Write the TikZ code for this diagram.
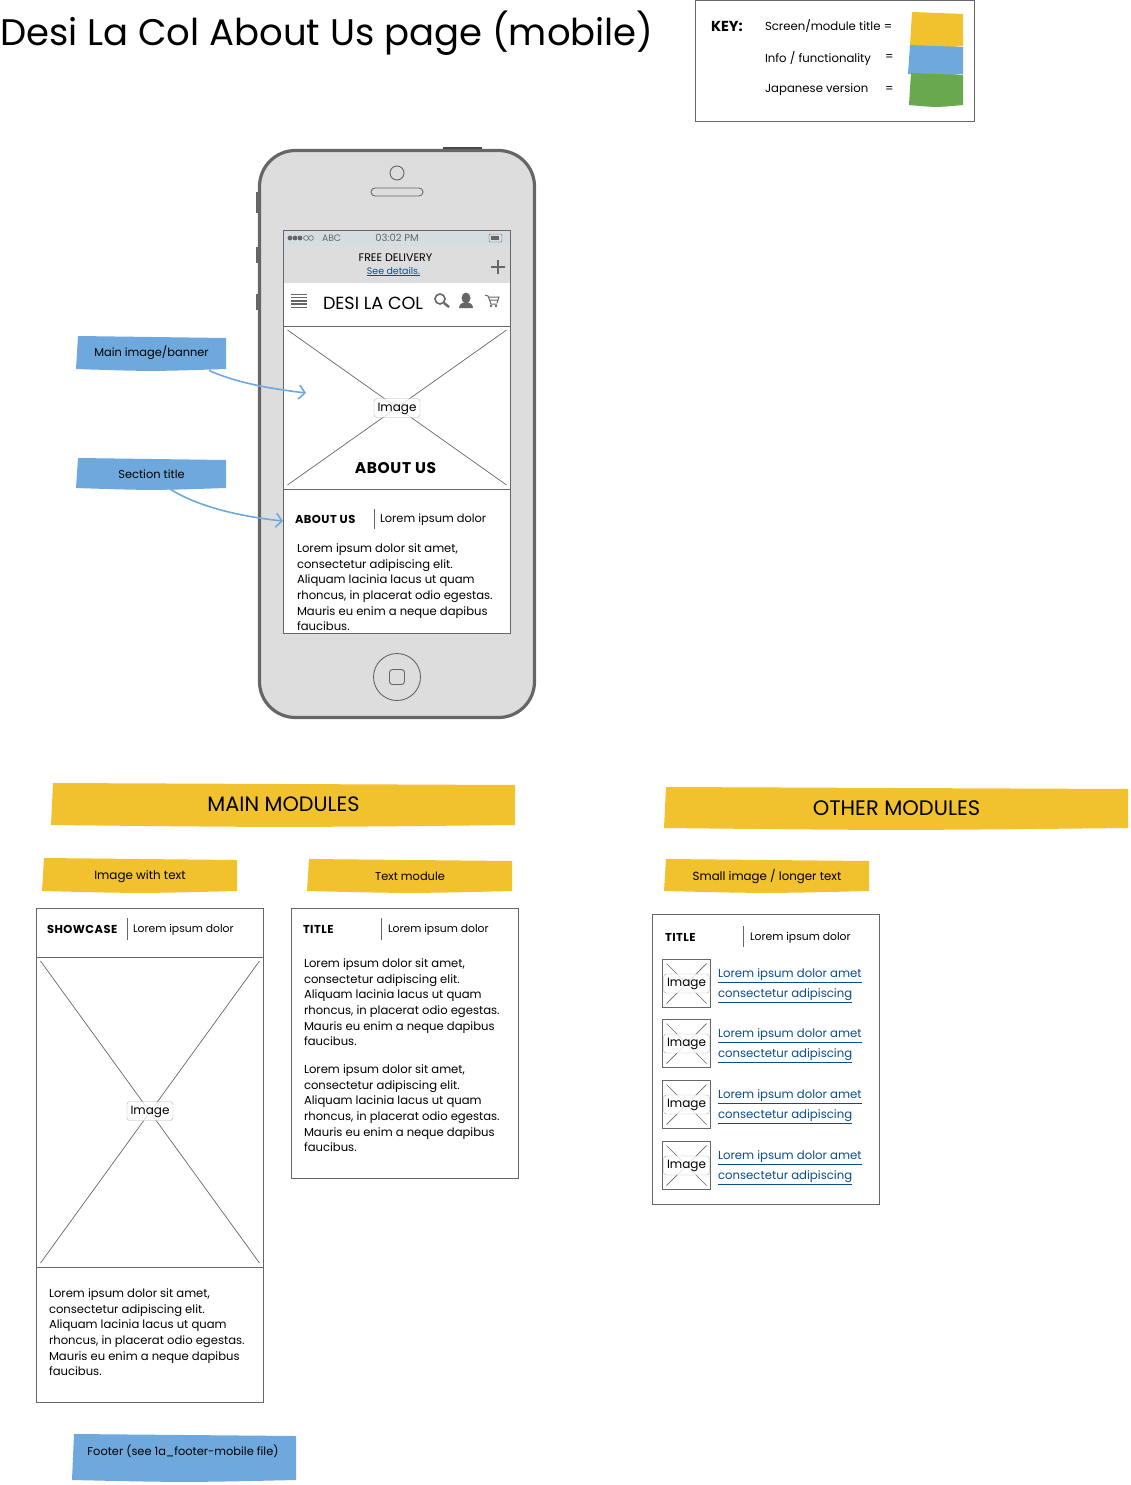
\documentclass[tikz,border=0pt]{standalone}
\usepackage{fontspec}
\setmainfont{Poppins}
\usepackage{xcolor}
\usetikzlibrary{arrows.meta, positioning}
\definecolor{frame}{RGB}{102,102,102}
\definecolor{shell}{RGB}{221,221,221}
\definecolor{statusbar}{RGB}{214,221,224}
\definecolor{notey}{RGB}{242,193,46}
\definecolor{noteb}{RGB}{111,168,220}
\definecolor{noteg}{RGB}{106,168,79}
\definecolor{linkc}{RGB}{11,76,140}
\newcommand{\fs}[1]{\fontsize{#1}{#1}\selectfont}
\newcommand{\stickynote}[6]{%
  \fill[#5] (#1+1,#2) .. controls ({(#1+#3)/2},#2+1) .. (#3,#2+2) -- (#3,#4-1)
    .. controls ({(#1+#3)/2},#4+1.5) .. (#1-1,#4-1) -- cycle;
  \node (#6) at ({(#1+#3)/2},{(#2+#4)/2}) [inner sep=0, outer sep=0] {};}
\tikzset{
  line/.style={draw=frame, line width=0.9pt},
  panel/.style={line, fill=white, anchor=north west, inner sep=0, outer sep=0},
  txt/.style={inner sep=0, outer sep=0, anchor=west, font=\fs{11.4}},
  head/.style={txt, font=\bfseries\fs{11.5}\addfontfeatures{LetterSpace=4}},
  para/.style={inner sep=0, outer sep=0, anchor=north west, align=left, font=\fontsize{11.6}{15.6}\selectfont},
  linktxt/.style={txt, text=linkc, font=\fs{11.7}},
  image_box/.style={panel, path picture={
    \draw[frame, line width=0.7pt] ([shift={(4pt,4pt)}]path picture bounding box.south west) -- ([shift={(-4pt,-4pt)}]path picture bounding box.north east);
    \draw[frame, line width=0.7pt] ([shift={(4pt,-4pt)}]path picture bounding box.north west) -- ([shift={(-4pt,4pt)}]path picture bounding box.south east);}},
  image_tag/.style={draw=frame!50, fill=white, fill opacity=0.8, text opacity=1, rounded corners=3pt, inner xsep=3.5pt, inner ysep=3.5pt, text height=9pt, text depth=3pt, font=\fs{12}},
  pointer/.style={noteb, line width=1.6pt, -{Straight Barb[length=6pt,width=14pt]}},
}
\begin{document}
\begin{tikzpicture}[x=1pt, y=-1pt]
\useasboundingbox (0,0) rectangle (1130,1485);

\node (page_title) at (0,33) [txt, font=\fs{37}] {Desi La Col About Us page (mobile)};

% key
\node (key_box) at (695.5,0) [panel, minimum width=279pt, minimum height=121pt] {};
\node (key_label) at (711,26) [txt, font=\bfseries\fs{14.5}] {KEY:};
\node (key_screen) at (765,25.5) [txt, font=\fs{11.7}] {Screen/module title =};
\node (key_info) at (765,58) [txt, font=\fs{11.7}] {Info / functionality};
\node (key_japan) at (765,90) [txt, font=\fs{11.7}] {Japanese version};
\node (key_eq2) at (885,58) [txt, font=\fs{11.7}] {=};
\node (key_eq3) at (885,89.5) [txt, font=\fs{11.7}] {=};
\stickynote{911}{12}{963}{47}{notey}{key_yellow}
\stickynote{909}{45}{963}{75}{noteb}{key_blue}
\stickynote{910}{73}{963}{106}{noteg}{key_green}

% phone
\fill[frame!70!black] (443,147) rectangle (482,151);
\fill[frame] (256,192) rectangle (260,213);
\fill[frame] (256,247) rectangle (260,263);
\fill[frame] (256,294) rectangle (260,310);
\node (phone) at (259.5,150.5) [panel, fill=shell, line width=3.2pt, rounded corners=36pt, minimum width=275pt, minimum height=567pt] {};
\node (earpiece) at (397,173) [circle, line, minimum size=14pt, inner sep=0] {};
\node (speaker) at (397,192) [line, rounded corners=4pt, minimum width=52pt, minimum height=8pt, inner sep=0] {};
\node (home_btn) at (397,677) [circle, line, minimum size=47pt, inner sep=0] {};
\node (home_sq) at (home_btn.center) [line, rounded corners=3pt, minimum size=15pt, inner sep=0] {};

% screen
\node (screen) at (283.5,230) [panel, minimum width=227pt, minimum height=403pt] {};
\fill[shell] (284,246) rectangle (510,283);
\fill[statusbar] (284,230.5) rectangle (510,246);
\foreach \dotx in {290,295,300} \fill[frame] (\dotx,238) circle (2.4pt);
\foreach \dotx in {306,311} \draw[frame, line width=0.6pt] (\dotx,238) circle (2.4pt);
\node (carrier) at (322,238) [txt, text=frame, font=\fs{9.3}] {ABC};
\node (clock) at (397,238) [txt, anchor=center, text=frame, font=\fs{10}] {03:02 PM};
\draw[frame, rounded corners=1pt] (489,234) rectangle (502,242);
\fill[frame] (491,236) rectangle (499,240);
\node (delivery) at (395.5,258) [txt, anchor=center, font=\fs{11}] {FREE DELIVERY};
\node (details) at (393.5,271.5) [txt, anchor=center, text=linkc, font=\fs{9.4}] {\underline{See details.}};
\draw[frame, line width=1.5pt] (491,267) -- (505,267) (498,260) -- (498,274);

% nav bar
\foreach \liney in {294.5,297.7,300.9,304.1,307.3} \draw[frame, line width=1.4pt] (291,\liney) -- (307,\liney);
\node (brand) at (323,303) [txt, font=\fs{17.6}] {DESI LA COL};
\draw[frame, line width=1.6pt] (440,299) circle (5pt);
\draw[frame, line width=2.4pt] (444,303) -- (449,307);
\fill[frame] (466,298) ellipse (4.5pt and 5.5pt);
\fill[frame] (459,308) .. controls (459,303) and (463,303) .. (466,302) .. controls (469,303) and (473,303) .. (473,308) -- cycle;
\draw[frame, line width=1pt] (485,295) -- (488,296) -- (491,304) -- (497,304) (488,297) -- (499,297) -- (497,303) (489.5,300) -- (498,300);
\fill[frame] (491,306) circle (1.3pt) (496,306) circle (1.3pt);
\draw[line] (283.5,326) -- (510.5,326);

% hero image
\node (hero) at (283.5,326) [image_box, minimum width=227pt, minimum height=163pt] {};
\node (hero_tag) at (397,408) [image_tag] {Image};
\node (hero_title) at (395.5,468.5) [txt, anchor=center, font=\bfseries\fs{15.5}\addfontfeatures{LetterSpace=4}] {ABOUT US};
\node (sect_head) at (295,519.5) [head] {ABOUT US};
\draw[line] (374,509) -- (374,529);
\node (sect_text) at (380,520) [txt] {Lorem ipsum dolor};
\node (sect_para) at (297,543.8) [para] {Lorem ipsum dolor sit amet,\\consectetur adipiscing elit.\\Aliquam lacinia lacus ut quam\\rhoncus, in placerat odio egestas.\\Mauris eu enim a neque dapibus\\faucibus.};

% callouts
\stickynote{77}{336}{226}{370}{noteb}{main_banner}
\node at (main_banner) [txt, anchor=center] {Main image/banner};
\stickynote{77}{458}{226}{489}{noteb}{section_note}
\node at ([yshift=-1pt]section_note) [txt, anchor=center] {Section title};
\coordinate (hero_point) at (306,393);
\coordinate (sect_point) at (283,521);
\draw[pointer] ([xshift=57.5pt,yshift=-17.5pt]main_banner.center) .. controls (235,382) and (265,388) .. (hero_point);
\draw[pointer] ([xshift=18.5pt,yshift=-15.5pt]section_note.center) .. controls (195,505) and (235,516) .. (sect_point);

% main modules
\stickynote{52}{783}{515}{826}{notey}{main_title}
\node at (main_title) [txt, anchor=center, font=\fs{20.8}] {MAIN MODULES};
\stickynote{43}{858}{237}{892}{notey}{img_note}
\node at ([yshift=-2pt]img_note) [txt, anchor=center, font=\fs{11.9}] {Image with text};
\stickynote{308}{859}{512}{892}{notey}{text_note}
\node at ([yshift=-1pt]text_note) [txt, anchor=center] {Text module};

\node (showcase) at (36.5,908.5) [panel, minimum width=227pt, minimum height=494pt] {};
\node (show_head) at (47,929.5) [head] {SHOWCASE};
\draw[line] (127,918) -- (127,940);
\node (show_text) at (133,930) [txt, font=\fs{10.8}] {Lorem ipsum dolor};
\node (show_img) at (36.5,957) [image_box, minimum width=227pt, minimum height=310pt] {};
\node (show_tag) at (150,1111) [image_tag] {Image};
\node (show_para) at (49,1288.8) [para] {Lorem ipsum dolor sit amet,\\consectetur adipiscing elit.\\Aliquam lacinia lacus ut quam\\rhoncus, in placerat odio egestas.\\Mauris eu enim a neque dapibus\\faucibus.};

\node (textmod) at (291.5,908.5) [panel, minimum width=227pt, minimum height=270pt] {};
\node (text_head) at (303,929.5) [head] {TITLE};
\draw[line] (381,918) -- (381,940);
\node (text_text) at (388,930) [txt, font=\fs{10.8}] {Lorem ipsum dolor};
\node (text_para) at (304,958.8) [para] {Lorem ipsum dolor sit amet,\\consectetur adipiscing elit.\\Aliquam lacinia lacus ut quam\\rhoncus, in placerat odio egestas.\\Mauris eu enim a neque dapibus\\faucibus.};
\node (text_parb) at (304,1064.8) [para] {Lorem ipsum dolor sit amet,\\consectetur adipiscing elit.\\Aliquam lacinia lacus ut quam\\rhoncus, in placerat odio egestas.\\Mauris eu enim a neque dapibus\\faucibus.};

% other modules
\stickynote{665}{787}{1128}{829}{notey}{other_title}
\node at (other_title) [txt, anchor=center, font=\fs{21}] {OTHER MODULES};
\stickynote{665}{859}{869}{892}{notey}{small_note}
\node at ([yshift=-1pt]small_note) [txt, anchor=center, font=\fs{11.8}] {Small image / longer text};

\node (othermod) at (652.5,914.5) [panel, minimum width=227pt, minimum height=290pt] {};
\node (other_head) at (665,937.5) [head] {TITLE};
\draw[line] (743,926) -- (743,947);
\node (other_text) at (750,938) [txt, font=\fs{10.8}] {Lorem ipsum dolor};
\foreach \rowy [count=\rown] in {959.5,1019.5,1080.5,1141.5} {
  \node (thumb\rown) at (662.5,\rowy) [image_box, minimum size=48pt] {};
  \node (tag\rown) at (thumb\rown.center) [image_tag] {Image};
  \node (link\rown a) at (718,\rowy+16) [linktxt] {\underline{Lorem ipsum dolor amet}};
  \node (link\rown b) at (718,\rowy+36) [linktxt] {\underline{consectetur adipiscing}};
}

% footer
\stickynote{73}{1434}{296}{1481}{noteb}{footer_note}
\node at (183,1451) [txt, anchor=center] {Footer (see 1a\_footer-mobile file)};
\end{tikzpicture}
\end{document}
